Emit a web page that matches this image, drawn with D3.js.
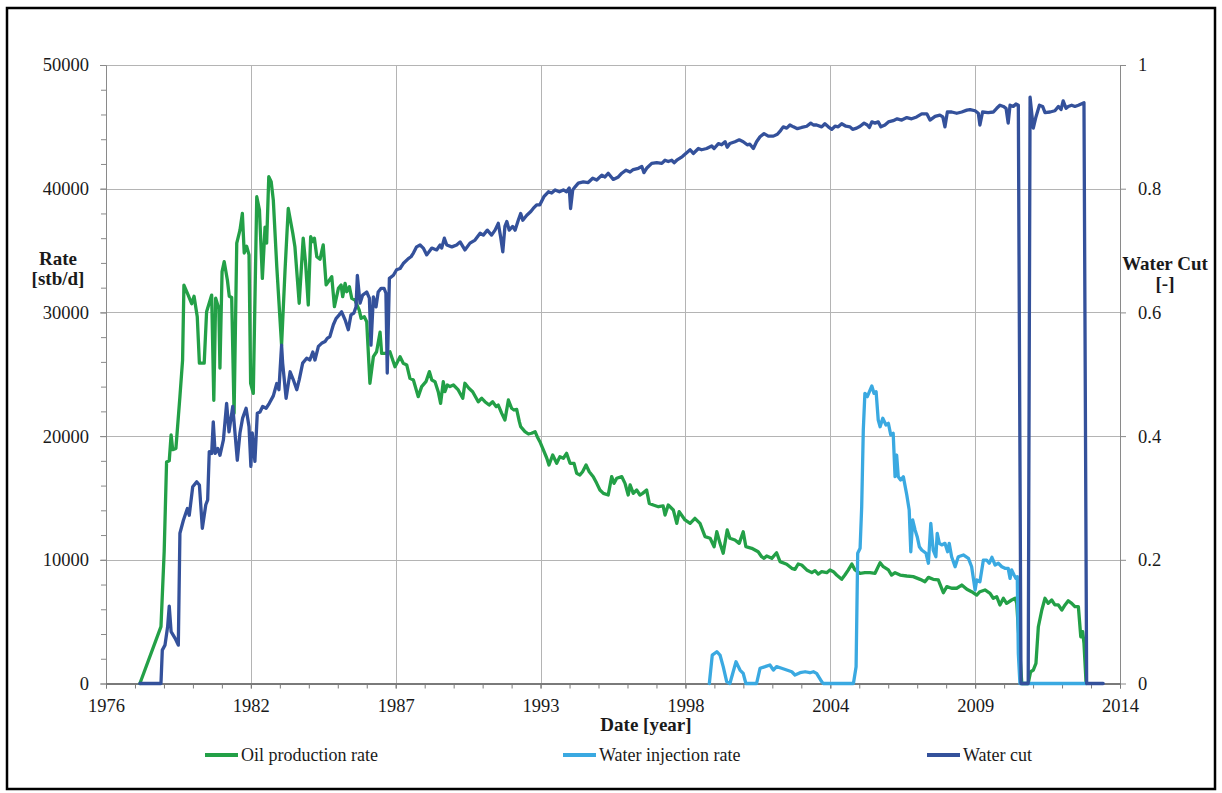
<!DOCTYPE html>
<html><head><meta charset="utf-8">
<script src="https://cdn.jsdelivr.net/npm/d3@7"></script>
<style>body{margin:0;background:#fff}svg{display:block}</style>
</head><body><svg id="c" width="1222" height="793"></svg>
<script>
// ---------- data ----------
const xTickLabels = ["1976","1982","1987","1993","1998","2004","2009","2014"];
const rateTicks = [0,10000,20000,30000,40000,50000];
const wcTicks = [0,0.2,0.4,0.6,0.8,1];
const seriesNames = ["Oil production rate","Water injection rate","Water cut"];
const seriesColors = ["#23a047","#3aa9e1","#34519b"];

// [decimal year, stb/d]
const oilRate = [[1977.27,0],[1978.06,4600],[1978.18,10650],[1978.27,17900],[1978.37,18000],[1978.44,20100],[1978.50,18900],[1978.62,19000],[1978.77,23200],[1978.87,26150],[1978.92,32200],[1979.08,31400],[1979.21,30700],[1979.30,31300],[1979.42,29650],[1979.50,25900],[1979.68,25900],[1979.77,30050],[1979.96,31400],[1980.04,22900],[1980.11,31150],[1980.23,30300],[1980.27,25500],[1980.35,33300],[1980.43,34100],[1980.55,32600],[1980.62,31300],[1980.71,31200],[1980.80,21850],[1980.90,35600],[1981.02,36650],[1981.11,38000],[1981.18,34800],[1981.27,35350],[1981.36,34650],[1981.42,24270],[1981.52,23450],[1981.65,39350],[1981.75,38300],[1981.86,32750],[1981.96,36900],[1982.02,35600],[1982.10,40970],[1982.19,40570],[1982.27,39080],[1982.40,33700],[1982.58,27360],[1982.71,33430],[1982.83,38400],[1983.00,36400],[1983.08,35300],[1983.24,30740],[1983.39,36000],[1983.48,33970],[1983.58,30600],[1983.67,36120],[1983.75,35720],[1983.81,36000],[1983.90,34500],[1984.02,34290],[1984.14,35450],[1984.25,32220],[1984.33,32480],[1984.46,32890],[1984.56,30460],[1984.71,31950],[1984.81,32220],[1984.87,31270],[1984.96,32350],[1985.02,31670],[1985.12,32080],[1985.21,31140],[1985.33,31000],[1985.49,30190],[1985.56,29520],[1985.68,29650],[1985.77,29250],[1985.89,24270],[1986.02,26420],[1986.14,26820],[1986.27,28400],[1986.33,26690],[1986.46,26690],[1986.64,26820],[1986.83,25610],[1987.02,26420],[1987.14,25890],[1987.27,25750],[1987.39,24670],[1987.52,24530],[1987.70,23190],[1987.83,24000],[1987.99,24400],[1988.12,25210],[1988.21,24530],[1988.33,24400],[1988.45,23590],[1988.54,22650],[1988.64,24400],[1988.70,23590],[1988.79,24130],[1988.89,24000],[1989.02,24130],[1989.20,23730],[1989.37,23060],[1989.45,24270],[1989.60,23860],[1989.74,23590],[1989.95,22780],[1990.08,23060],[1990.20,22780],[1990.36,22510],[1990.49,22780],[1990.62,22380],[1990.70,22510],[1990.83,21840],[1990.95,21300],[1991.08,22920],[1991.20,22250],[1991.29,22110],[1991.39,22160],[1991.49,21170],[1991.54,20760],[1991.70,20360],[1991.83,20170],[1991.95,20230],[1992.08,20360],[1992.16,19950],[1992.26,19550],[1992.39,18880],[1992.52,18210],[1992.60,17660],[1992.74,18470],[1992.89,17800],[1993.01,18340],[1993.14,18210],[1993.26,18610],[1993.39,17800],[1993.54,17800],[1993.64,16990],[1993.76,16860],[1993.86,17120],[1993.99,17660],[1994.11,17120],[1994.26,16720],[1994.39,16180],[1994.51,15640],[1994.64,15370],[1994.82,15240],[1994.95,16720],[1995.04,16180],[1995.14,16590],[1995.33,16720],[1995.45,16180],[1995.57,15240],[1995.64,16050],[1995.76,15370],[1995.89,15640],[1996.01,15240],[1996.11,15370],[1996.26,15640],[1996.36,14560],[1996.51,14430],[1996.70,14290],[1996.88,14350],[1996.95,13620],[1997.07,14430],[1997.26,14030],[1997.39,12950],[1997.48,13890],[1997.70,13220],[1997.89,12950],[1998.07,13350],[1998.26,12950],[1998.45,11870],[1998.64,11740],[1998.79,11060],[1998.89,12270],[1999.01,11330],[1999.13,10530],[1999.28,12410],[1999.38,11740],[1999.57,11600],[1999.73,11330],[1999.88,12270],[1999.98,11060],[2000.20,10930],[2000.44,10650],[2000.57,10250],[2000.66,10120],[2000.76,10310],[2000.95,10120],[2001.13,10570],[2001.26,9850],[2001.51,9640],[2001.70,9310],[2001.82,9230],[2001.94,9660],[2002.07,9580],[2002.26,9180],[2002.45,8960],[2002.57,9120],[2002.69,8850],[2002.82,9040],[2003.01,8960],[2003.13,9180],[2003.26,9040],[2003.38,8770],[2003.57,8420],[2003.69,8770],[2003.82,9180],[2003.95,9660],[2004.07,9180],[2004.26,8910],[2004.44,8960],[2004.63,8960],[2004.82,8910],[2005.01,9770],[2005.13,9440],[2005.32,9180],[2005.44,8770],[2005.57,8960],[2005.76,8770],[2006.01,8690],[2006.25,8640],[2006.51,8420],[2006.69,8230],[2006.82,8580],[2007.00,8420],[2007.19,8370],[2007.38,7340],[2007.51,7830],[2007.69,7700],[2007.88,7700],[2008.07,7960],[2008.26,7620],[2008.44,7420],[2008.63,7150],[2008.75,7420],[2008.94,7560],[2009.13,7290],[2009.25,6890],[2009.38,7020],[2009.50,6350],[2009.63,6890],[2009.75,6480],[2009.94,6750],[2010.07,6890],[2010.13,6480],[2010.32,0],[2010.56,0],[2010.65,950],[2010.75,1090],[2010.85,1630],[2010.94,4590],[2011.07,5940],[2011.19,6890],[2011.31,6480],[2011.44,6750],[2011.56,6350],[2011.69,6350],[2011.82,5940],[2011.94,6350],[2012.06,6690],[2012.19,6480],[2012.31,6210],[2012.44,6210],[2012.53,3780],[2012.60,4190],[2012.65,3250],[2012.73,0]];

// [decimal year, stb/d]
const injRate = [[1998.61,0],[1998.72,2300],[1998.89,2570],[1999.01,2300],[1999.13,1360],[1999.26,150],[1999.38,0],[1999.61,1760],[1999.76,1090],[1999.88,820],[1999.98,0],[2000.38,0],[2000.51,1230],[2000.70,1360],[2000.88,1500],[2001.01,1090],[2001.13,1360],[2001.32,1230],[2001.51,1090],[2001.70,950],[2001.82,690],[2002.01,870],[2002.20,950],[2002.38,870],[2002.51,950],[2002.63,820],[2002.82,150],[2002.88,0],[2004.01,0],[2004.11,1360],[2004.17,10530],[2004.26,10930],[2004.32,14290],[2004.38,20490],[2004.44,23460],[2004.53,23190],[2004.61,23590],[2004.70,24050],[2004.78,23460],[2004.86,23590],[2004.94,21300],[2005.01,20760],[2005.11,21440],[2005.23,20900],[2005.32,21030],[2005.41,20090],[2005.50,20230],[2005.57,16720],[2005.63,18470],[2005.69,16720],[2005.78,16450],[2005.88,16720],[2006.01,15240],[2006.10,14030],[2006.16,10650],[2006.23,13220],[2006.32,12410],[2006.40,11870],[2006.48,11060],[2006.57,10790],[2006.73,10530],[2006.82,9720],[2006.91,12950],[2007.00,10790],[2007.10,10250],[2007.15,12140],[2007.23,11330],[2007.32,11200],[2007.44,11330],[2007.54,10650],[2007.60,11330],[2007.69,10250],[2007.82,9440],[2007.94,10250],[2008.13,10390],[2008.32,10120],[2008.44,9440],[2008.57,7560],[2008.63,8370],[2008.75,8230],[2008.88,9980],[2009.00,9980],[2009.10,9720],[2009.20,10200],[2009.32,9580],[2009.44,9720],[2009.57,9440],[2009.69,9310],[2009.81,9310],[2009.88,8500],[2009.94,9180],[2010.03,8770],[2010.10,8500],[2010.15,8640],[2010.19,2440],[2010.25,0],[2012.73,0]];

// [decimal year, fraction]
const waterCut = [[1977.27,0],[1978.06,0],[1978.11,0.054],[1978.21,0.062],[1978.31,0.092],[1978.37,0.125],[1978.44,0.084],[1978.59,0.073],[1978.71,0.062],[1978.77,0.243],[1978.90,0.264],[1979.05,0.283],[1979.12,0.272],[1979.25,0.318],[1979.40,0.326],[1979.50,0.321],[1979.61,0.251],[1979.74,0.289],[1979.81,0.297],[1979.87,0.375],[1979.96,0.372],[1980.02,0.423],[1980.09,0.372],[1980.19,0.380],[1980.27,0.369],[1980.40,0.394],[1980.52,0.453],[1980.61,0.407],[1980.75,0.448],[1980.92,0.361],[1981.02,0.405],[1981.12,0.429],[1981.25,0.445],[1981.36,0.415],[1981.43,0.351],[1981.48,0.405],[1981.58,0.359],[1981.67,0.437],[1981.77,0.439],[1981.87,0.448],[1982.00,0.445],[1982.12,0.453],[1982.27,0.465],[1982.40,0.485],[1982.48,0.475],[1982.58,0.547],[1982.62,0.518],[1982.75,0.461],[1982.90,0.504],[1983.02,0.491],[1983.15,0.475],[1983.24,0.491],[1983.37,0.518],[1983.52,0.526],[1983.64,0.523],[1983.75,0.536],[1983.83,0.523],[1983.96,0.545],[1984.08,0.550],[1984.21,0.553],[1984.29,0.558],[1984.39,0.561],[1984.52,0.580],[1984.62,0.590],[1984.74,0.596],[1984.83,0.601],[1984.96,0.588],[1985.08,0.572],[1985.18,0.596],[1985.29,0.599],[1985.37,0.609],[1985.42,0.660],[1985.52,0.615],[1985.62,0.628],[1985.77,0.633],[1985.87,0.623],[1985.93,0.547],[1986.02,0.625],[1986.12,0.609],[1986.20,0.633],[1986.31,0.639],[1986.42,0.639],[1986.49,0.631],[1986.54,0.502],[1986.62,0.655],[1986.77,0.660],[1986.89,0.669],[1987.02,0.671],[1987.14,0.679],[1987.33,0.687],[1987.43,0.690],[1987.52,0.696],[1987.64,0.706],[1987.77,0.709],[1987.89,0.704],[1988.02,0.693],[1988.21,0.704],[1988.39,0.701],[1988.52,0.709],[1988.58,0.704],[1988.68,0.720],[1988.77,0.709],[1988.96,0.706],[1989.14,0.709],[1989.27,0.714],[1989.45,0.701],[1989.64,0.712],[1989.83,0.717],[1990.02,0.728],[1990.14,0.725],[1990.29,0.733],[1990.45,0.725],[1990.58,0.733],[1990.70,0.744],[1990.79,0.722],[1990.87,0.698],[1990.95,0.739],[1991.02,0.747],[1991.11,0.733],[1991.24,0.739],[1991.33,0.733],[1991.45,0.749],[1991.54,0.760],[1991.62,0.749],[1991.77,0.757],[1991.92,0.763],[1992.01,0.768],[1992.14,0.774],[1992.26,0.774],[1992.41,0.787],[1992.58,0.795],[1992.70,0.793],[1992.83,0.798],[1992.99,0.795],[1993.14,0.798],[1993.26,0.795],[1993.36,0.801],[1993.41,0.768],[1993.49,0.798],[1993.58,0.803],[1993.70,0.809],[1993.89,0.811],[1994.07,0.810],[1994.24,0.817],[1994.39,0.814],[1994.58,0.822],[1994.70,0.819],[1994.82,0.825],[1995.01,0.815],[1995.20,0.819],[1995.33,0.825],[1995.49,0.830],[1995.64,0.827],[1995.76,0.831],[1995.95,0.833],[1996.08,0.836],[1996.16,0.826],[1996.26,0.833],[1996.45,0.841],[1996.64,0.842],[1996.83,0.841],[1996.95,0.846],[1997.07,0.844],[1997.20,0.846],[1997.29,0.842],[1997.39,0.846],[1997.60,0.852],[1997.89,0.863],[1998.01,0.857],[1998.20,0.865],[1998.32,0.863],[1998.51,0.865],[1998.70,0.869],[1998.79,0.865],[1998.95,0.873],[1999.07,0.871],[1999.20,0.876],[1999.28,0.867],[1999.38,0.873],[1999.57,0.876],[1999.73,0.879],[1999.88,0.876],[2000.03,0.871],[2000.13,0.872],[2000.26,0.865],[2000.38,0.876],[2000.51,0.884],[2000.66,0.889],[2000.82,0.885],[2001.01,0.885],[2001.16,0.888],[2001.28,0.894],[2001.38,0.900],[2001.51,0.898],[2001.63,0.903],[2001.76,0.900],[2001.91,0.897],[2002.07,0.899],[2002.26,0.901],[2002.41,0.906],[2002.51,0.903],[2002.63,0.903],[2002.82,0.900],[2002.94,0.905],[2003.07,0.900],[2003.20,0.896],[2003.32,0.901],[2003.44,0.900],[2003.57,0.905],[2003.73,0.901],[2003.88,0.900],[2003.98,0.896],[2004.13,0.898],[2004.26,0.901],[2004.41,0.906],[2004.53,0.903],[2004.61,0.899],[2004.70,0.908],[2004.82,0.906],[2004.94,0.908],[2005.04,0.900],[2005.19,0.903],[2005.32,0.908],[2005.50,0.910],[2005.65,0.913],[2005.82,0.911],[2006.01,0.915],[2006.19,0.913],[2006.38,0.916],[2006.57,0.921],[2006.76,0.921],[2006.88,0.911],[2007.07,0.917],[2007.25,0.919],[2007.36,0.916],[2007.44,0.900],[2007.53,0.924],[2007.69,0.924],[2007.88,0.922],[2008.07,0.924],[2008.26,0.927],[2008.38,0.928],[2008.57,0.926],[2008.69,0.922],[2008.75,0.903],[2008.85,0.924],[2009.06,0.923],[2009.25,0.924],[2009.38,0.930],[2009.50,0.935],[2009.63,0.933],[2009.73,0.930],[2009.81,0.906],[2009.88,0.935],[2010.00,0.933],[2010.10,0.937],[2010.19,0.935],[2010.29,0],[2010.56,0],[2010.63,0.948],[2010.75,0.898],[2010.85,0.916],[2010.98,0.935],[2011.10,0.933],[2011.19,0.923],[2011.38,0.924],[2011.56,0.926],[2011.69,0.933],[2011.79,0.928],[2011.87,0.942],[2011.98,0.930],[2012.06,0.933],[2012.19,0.935],[2012.31,0.933],[2012.44,0.935],[2012.65,0.939],[2012.75,0],[2013.37,0]];

// ---------- layout ----------
const L = 106, R = 1120, T = 65, B = 683.5;
const FONT = "'Liberation Serif','Times New Roman',serif";
const svg = d3.select("#c");
svg.append("rect").attr("width",1222).attr("height",793).attr("fill","#fff");
svg.append("rect").attr("x",7).attr("y",8).attr("width",1208).attr("height",781)
  .attr("fill","none").attr("stroke","#000").attr("stroke-width",2.5);

const x = d3.scaleLinear().domain([1976, 2014]).range([L, R]);
const yL = d3.scaleLinear().domain([0, 50000]).range([B, T]);
const yR = d3.scaleLinear().domain([0, 1]).range([B, T]);

const xMajor = d3.range(xTickLabels.length).map(i => 1976 + i * 38 / (xTickLabels.length - 1));
const xMinor = d3.range(0, 36).map(i => 1976 + i * 38 / 35);
const rateMinor = d3.range(0, 50001, 2000);

// gridlines
const grid = svg.append("g").attr("stroke","#b4b4b4").attr("stroke-width",1);
rateTicks.filter(v => v > 0).forEach(v => grid.append("line")
  .attr("x1",L).attr("x2",R).attr("y1",Math.round(yL(v))+0.5).attr("y2",Math.round(yL(v))+0.5));
xMajor.slice(1, -1).forEach(v => grid.append("line")
  .attr("x1",Math.round(x(v))+0.5).attr("x2",Math.round(x(v))+0.5).attr("y1",T).attr("y2",B));

// axes
function styleAxis(g, color, width){
  g.select(".domain").attr("stroke",color).attr("stroke-width",width);
  g.selectAll(".tick line").attr("stroke",color).attr("stroke-width",1);
  g.selectAll("text").attr("font-family",FONT).attr("font-size",18.5).attr("fill","#1a1a1a");
}
const gLm = svg.append("g").attr("transform",`translate(${L},0)`)
  .call(d3.axisLeft(yL).tickValues(rateMinor).tickSize(5).tickSizeOuter(0).tickFormat(""));
styleAxis(gLm, "#8a8a8a", 1);
const gL = svg.append("g").attr("transform",`translate(${L},0)`)
  .call(d3.axisLeft(yL).tickValues(rateTicks).tickSize(6).tickPadding(11).tickSizeOuter(0).tickFormat(d3.format("d")));
styleAxis(gL, "#8a8a8a", 1);
const gR = svg.append("g").attr("transform",`translate(${R},0)`)
  .call(d3.axisRight(yR).tickValues(wcTicks).tickSize(6).tickPadding(12).tickSizeOuter(0)
    .tickFormat(d => String(+d.toFixed(1))));
styleAxis(gR, "#8a8a8a", 1);
const gBm = svg.append("g").attr("transform",`translate(0,${B})`)
  .call(d3.axisBottom(x).tickValues(xMinor).tickSize(5).tickSizeOuter(0).tickFormat(""));
styleAxis(gBm, "#7a7a7a", 2);
const gB = svg.append("g").attr("transform",`translate(0,${B})`)
  .call(d3.axisBottom(x).tickValues(xMajor).tickSize(5).tickPadding(10).tickSizeOuter(0)
    .tickFormat((d,i) => xTickLabels[i]));
styleAxis(gB, "#7a7a7a", 2);

// axis titles
const title = (txt, xx, yy) => svg.append("text").text(txt)
  .attr("x",xx).attr("y",yy).attr("text-anchor","middle")
  .attr("font-family",FONT).attr("font-size",19).attr("font-weight","bold").attr("fill","#1a1a1a");
title("Rate", 58, 265);
title("[stb/d]", 58, 285);
title("Water Cut", 1165, 270);
title("[-]", 1165, 290);
title("Date [year]", 646, 731);

// lines
const mk = (yScale) => d3.line().x(d => x(d[0])).y(d => yScale(d[1]));
const lines = svg.append("g").attr("fill","none").attr("stroke-width",3.3)
  .attr("stroke-linejoin","round").attr("stroke-linecap","round");
lines.append("path").datum(oilRate).attr("d", mk(yL)).attr("stroke", seriesColors[0]);
lines.append("path").datum(injRate).attr("d", mk(yL)).attr("stroke", seriesColors[1]);
lines.append("path").datum(waterCut).attr("d", mk(yR)).attr("stroke", seriesColors[2]);

// legend
const legX = [205, 563, 927];
const leg = svg.append("g");
seriesNames.forEach((n, i) => {
  leg.append("line").attr("x1",legX[i]).attr("x2",legX[i]+33).attr("y1",755).attr("y2",755)
    .attr("stroke",seriesColors[i]).attr("stroke-width",4);
  leg.append("text").text(n).attr("x",legX[i]+36).attr("y",761)
    .attr("font-family",FONT).attr("font-size",18).attr("fill","#1a1a1a");
});
</script></body></html>
